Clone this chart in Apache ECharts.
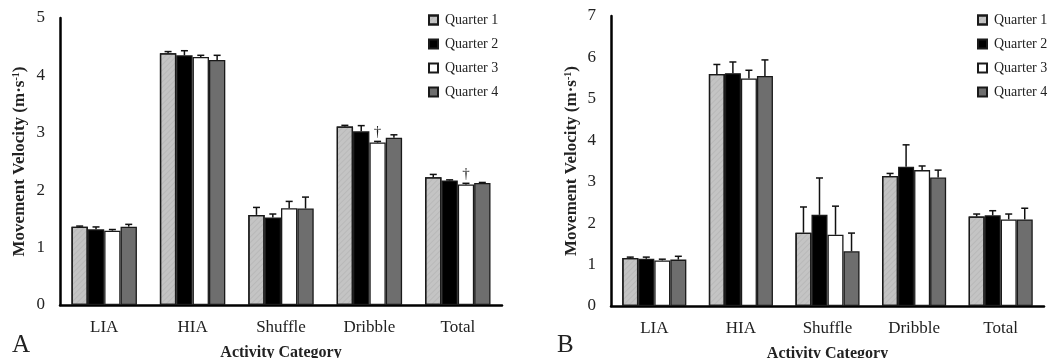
<!DOCTYPE html>
<html><head><meta charset="utf-8">
<script src="https://cdn.jsdelivr.net/npm/echarts@6/dist/echarts.min.js"></script>
<style>html,body{margin:0;padding:0;background:#fff}#c{width:1056px;height:358px}</style>
</head><body><div id="c"></div>
<script>
const categories = ['LIA', 'HIA', 'Shuffle', 'Dribble', 'Total'];
const quarters = ['Quarter 1', 'Quarter 2', 'Quarter 3', 'Quarter 4'];
const yTicksA = [0, 1, 2, 3, 4, 5];
const yTicksB = [0, 1, 2, 3, 4, 5, 6, 7];

// Panel A means and SDs
const aQ1 = [1.365, 4.385, 1.57, 3.11, 2.225];
const aQ2 = [1.32, 4.35, 1.525, 3.025, 2.17];
const aQ3 = [1.295, 4.32, 1.685, 2.83, 2.10];
const aQ4 = [1.365, 4.27, 1.68, 2.915, 2.125];
const aE1 = [0.01, 0.03, 0.13, 0.02, 0.05];
const aE2 = [0.04, 0.08, 0.06, 0.10, 0.01];
const aE3 = [0.02, 0.03, 0.12, 0.02, 0.02];
const aE4 = [0.04, 0.08, 0.20, 0.05, 0.01];
const aDaggerQ3 = [3, 4]; // category indices marked with †

// Panel B means and SDs
const bQ1 = [1.16, 5.60, 1.77, 3.14, 2.16];
const bQ2 = [1.14, 5.62, 2.20, 3.36, 2.19];
const bQ3 = [1.10, 5.49, 1.72, 3.28, 2.09];
const bQ4 = [1.12, 5.55, 1.32, 3.10, 2.09];
const bE1 = [0.02, 0.23, 0.62, 0.06, 0.06];
const bE2 = [0.04, 0.27, 0.89, 0.53, 0.11];
const bE3 = [0.03, 0.20, 0.69, 0.10, 0.13];
const bE4 = [0.08, 0.39, 0.44, 0.18, 0.27];

const FONT = '"Liberation Serif", "DejaVu Serif", serif';
const GAP = 0.26;
const colors = ['#c4c4c4', '#000000', '#ffffff', '#6e6e6e'];
const styles = colors.map((c, i) => {
  const s = { color: c, borderColor: '#1a1a1a', borderWidth: 1.3 };
  if (i === 0) s.decal = { symbol: 'rect', symbolSize: 1, dashArrayX: [1, 0], dashArrayY: [1, 3], rotation: -Math.PI / 4, color: 'rgba(0,0,0,0.06)' };
  return s;
});

function barSeries(panel, means, daggers) {
  return means.map((vals, i) => ({
    type: 'bar', name: quarters[i], xAxisIndex: panel, yAxisIndex: panel,
    barGap: 0, barCategoryGap: (GAP * 100) + '%',
    itemStyle: styles[i],
    data: vals.map((v, k) => {
      if (daggers && daggers[i] && daggers[i].includes(k)) {
        return { value: v, label: { show: true, position: 'top', distance: 3, formatter: '†', fontFamily: FONT, fontSize: 15, color: '#222' } };
      }
      return v;
    })
  }));
}
function errSeries(panel, means, errs) {
  return means.map((vals, i) => ({
    type: 'custom', xAxisIndex: panel, yAxisIndex: panel, z: 5, silent: true,
    data: vals.map((v, k) => [k, v, errs[i][k]]),
    renderItem: function (params, api) {
      const c = api.value(0), v = api.value(1), e = api.value(2);
      const p = api.coord([c, v]);
      const t = api.coord([c, v + e]);
      const band = api.size([1, 0])[0];
      const gw = band * (1 - GAP);
      const bw = gw / 4;
      const x = p[0] - gw / 2 + bw * (i + 0.5);
      const st = { stroke: '#111', lineWidth: 1.5 };
      return { type: 'group', children: [
        { type: 'line', shape: { x1: x, y1: p[1], x2: x, y2: t[1] }, style: st },
        { type: 'line', shape: { x1: x - 3.5, y1: t[1], x2: x + 3.5, y2: t[1] }, style: st }
      ] };
    }
  }));
}

function xAx(idx) {
  return {
    type: 'category', gridIndex: idx, data: categories,
    axisLine: { lineStyle: { color: '#000', width: 2.5 } },
    axisTick: { show: false },
    axisLabel: { fontFamily: FONT, fontSize: 17, color: '#222', margin: 14 },
    name: 'Activity Category', nameLocation: 'middle', nameGap: 40,
    nameTextStyle: { fontFamily: FONT, fontSize: 16, fontWeight: 'bold', color: '#222' }
  };
}
function yAx(idx, ticks) {
  return {
    type: 'value', gridIndex: idx, min: ticks[0], max: ticks[ticks.length - 1], interval: 1,
    axisLine: { show: true, lineStyle: { color: '#000', width: 2.5 } },
    axisTick: { show: false }, splitLine: { show: false },
    axisLabel: { fontFamily: FONT, fontSize: 17, color: '#222', margin: 15 },
    name: 'Movement Velocity (m·s{sup|-1})', nameLocation: 'middle', nameRotate: 90, nameGap: idx === 0 ? 31 : 30,
    nameTextStyle: { fontFamily: FONT, fontSize: 17, fontWeight: 'bold', color: '#222',
      rich: { sup: { fontFamily: FONT, fontSize: 10, fontWeight: 'bold', color: '#222', verticalAlign: 'top', padding: [0, 0, 8, 0] } } }
  };
}
function legend(left) {
  return {
    orient: 'vertical', left: left, top: 13, padding: 0, itemWidth: 9, itemHeight: 9, itemGap: 10,
    data: quarters, icon: 'rect', selectedMode: false,
    textStyle: { fontFamily: FONT, fontSize: 14, color: '#222', padding: [0, 0, 0, 2] }
  };
}

const chart = echarts.init(document.getElementById('c'), null, { renderer: 'canvas' });
chart.setOption({
  animation: false,
  backgroundColor: '#fff',
  grid: [
    { left: 60, right: 554, top: 18, bottom: 53, containLabel: false, outerBoundsMode: 'none' },
    { left: 611, right: 12, top: 16, bottom: 52, containLabel: false, outerBoundsMode: 'none' }
  ],
  xAxis: [xAx(0), xAx(1)],
  yAxis: [yAx(0, yTicksA), yAx(1, yTicksB)],
  legend: [legend(428), legend(977)],
  graphic: [
    { type: 'text', left: 12, top: 333, style: { text: 'A', fontFamily: FONT, fontSize: 25, fill: '#222' } },
    { type: 'text', left: 557, top: 333, style: { text: 'B', fontFamily: FONT, fontSize: 25, fill: '#222' } }
  ],
  series: [].concat(
    barSeries(0, [aQ1, aQ2, aQ3, aQ4], [null, null, aDaggerQ3, null]),
    errSeries(0, [aQ1, aQ2, aQ3, aQ4], [aE1, aE2, aE3, aE4]),
    barSeries(1, [bQ1, bQ2, bQ3, bQ4], null),
    errSeries(1, [bQ1, bQ2, bQ3, bQ4], [bE1, bE2, bE3, bE4])
  )
});
</script></body></html>
